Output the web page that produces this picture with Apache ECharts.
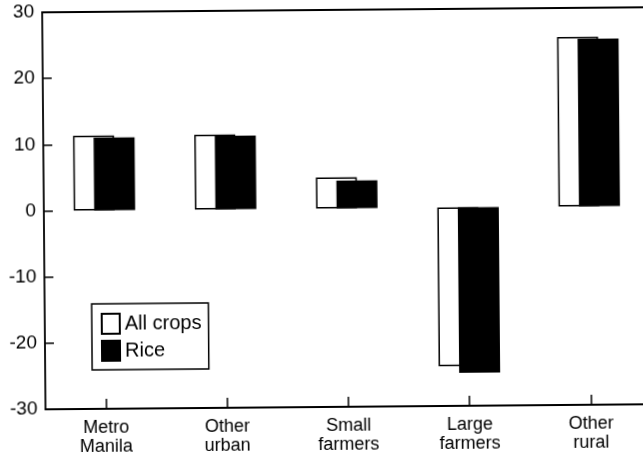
<!DOCTYPE html>
<html>
<head>
<meta charset="utf-8">
<script src="https://cdn.jsdelivr.net/npm/echarts@6/dist/echarts.min.js"></script>
<style>
html,body{margin:0;padding:0;background:#fff;overflow:hidden;width:643px;height:458px;}
#chart{width:670px;height:458px;transform:rotate(-0.48deg);transform-origin:321.5px 229px;}
</style>
</head>
<body>
<div id="chart"></div>
<script>
const categories = ['Metro\nManila', 'Other\nurban', 'Small\nfarmers', 'Large\nfarmers', 'Other\nrural'];
const allCrops = [11.3, 11.3, 4.7, -24.0, 25.6];
const rice = [11.0, 11.1, 4.2, -25.0, 25.3];
const seriesNames = ['All crops', 'Rice'];

const FONT = '"Liberation Sans", Arial, sans-serif';
const chart = echarts.init(document.getElementById('chart'), null, {renderer: 'canvas'});
chart.setOption({
  animation: false,
  backgroundColor: '#fff',
  textStyle: {fontFamily: FONT, color: '#000'},
  grid: {left: 44, top: 10, right: 20, bottom: 51},
  legend: {
    orient: 'vertical',
    left: 91, top: 302,
    padding: [9, 7, 8, 9],
    itemWidth: 18, itemHeight: 20, itemGap: 5,
    borderColor: '#000', borderWidth: 1.5,
    icon: 'rect',
    textStyle: {fontFamily: FONT, fontSize: 20, color: '#000'},
    data: seriesNames
  },
  xAxis: [{
    type: 'category',
    data: categories,
    position: 'bottom',
    axisLine: {onZero: false, lineStyle: {color: '#000', width: 1.8}},
    axisTick: {show: true, inside: true, length: 10, alignWithLabel: true, lineStyle: {color: '#000', width: 1.5}},
    axisLabel: {interval: 0, fontFamily: FONT, fontSize: 18, lineHeight: 19, color: '#000', margin: 10},
    splitLine: {show: false}
  }, {
    type: 'category',
    data: categories,
    position: 'top',
    axisLine: {onZero: false, lineStyle: {color: '#000', width: 1.8}},
    axisTick: {show: false},
    axisLabel: {show: false},
    splitLine: {show: false}
  }],
  yAxis: {
    type: 'value',
    min: -30, max: 30, interval: 10,
    axisLine: {show: true, onZero: false, lineStyle: {color: '#000', width: 1.8}},
    axisTick: {show: true, inside: true, length: 9, lineStyle: {color: '#000', width: 1.5}},
    axisLabel: {fontFamily: FONT, fontSize: 19, color: '#000', margin: 8},
    splitLine: {show: false}
  },
  series: [{
    name: seriesNames[0],
    type: 'bar',
    data: allCrops,
    barWidth: 41,
    barGap: '-50%',
    itemStyle: {color: '#fff', borderColor: '#000', borderWidth: 1.5}
  }, {
    name: seriesNames[1],
    type: 'bar',
    data: rice,
    barWidth: 41,
    barGap: '-50%',
    itemStyle: {color: '#000', borderColor: '#000', borderWidth: 1.5}
  }]
});
</script>
</body>
</html>
